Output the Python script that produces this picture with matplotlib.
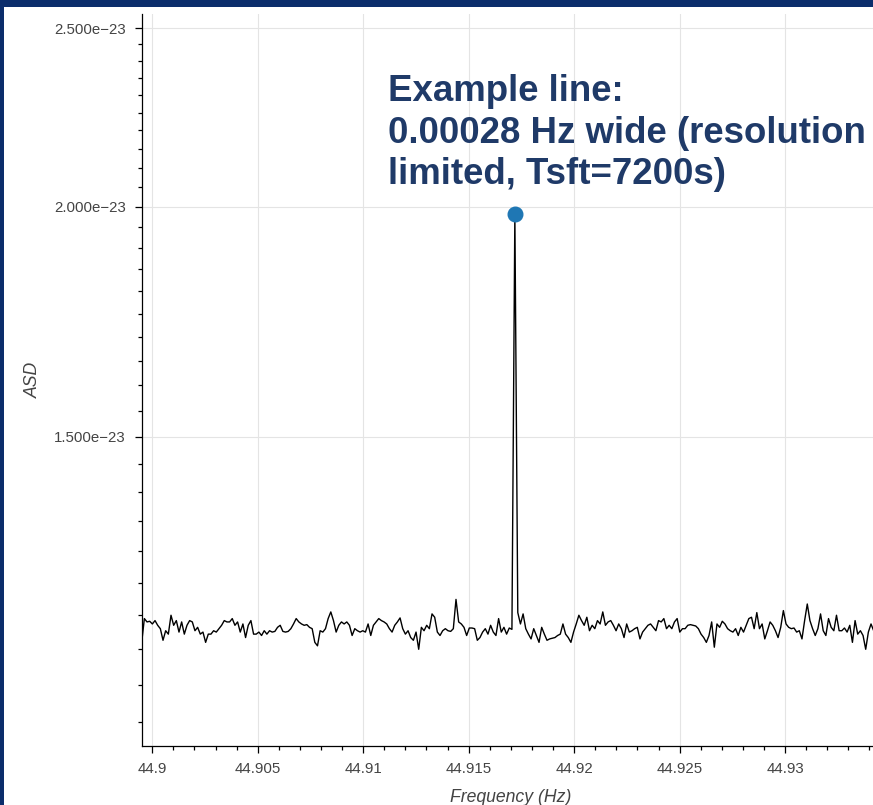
import numpy as np
import matplotlib
matplotlib.use("Agg")
import matplotlib.pyplot as plt
from matplotlib.patches import Rectangle
from matplotlib.ticker import FixedLocator, MultipleLocator, FuncFormatter, NullFormatter

# ASD values in units of 1e-23
NOISE_LEFT = [
    1.160, 1.195, 1.190, 1.191, 1.187, 1.192, 1.185, 1.180, 1.163, 1.177,
    1.172, 1.200, 1.185, 1.192, 1.175, 1.190, 1.172, 1.185, 1.192, 1.190,
    1.177, 1.182, 1.172, 1.175, 1.160, 1.172, 1.172, 1.177, 1.175, 1.180,
    1.185, 1.192, 1.190, 1.190, 1.195, 1.185, 1.190, 1.175, 1.187, 1.167,
    1.185, 1.192, 1.172, 1.172, 1.175, 1.170, 1.177, 1.172, 1.177, 1.175,
    1.176, 1.182, 1.185, 1.176, 1.175, 1.176, 1.180, 1.187, 1.195, 1.190,
    1.187, 1.185, 1.186, 1.182, 1.180, 1.160, 1.155, 1.177,
    1.175, 1.180, 1.195, 1.205, 1.192, 1.175, 1.185, 1.190, 1.187, 1.190,
    1.185, 1.170, 1.180, 1.177, 1.175, 1.177, 1.175, 1.187, 1.170, 1.185,
    1.190, 1.195, 1.192, 1.190, 1.187, 1.180, 1.175, 1.185, 1.190, 1.196,
    1.180, 1.172, 1.177, 1.167, 1.163, 1.175, 1.150, 1.182, 1.177, 1.185,
    1.180, 1.202, 1.197, 1.175, 1.170, 1.177, 1.180, 1.177, 1.176, 1.180,
    1.224, 1.190, 1.187, 1.182, 1.170, 1.181, 1.181, 1.180, 1.163, 1.167,
    1.175, 1.180, 1.172, 1.185, 1.175, 1.170, 1.195, 1.175, 1.182, 1.172,
    1.181, 1.179,
]
NOISE_RIGHT = [
    1.204, 1.187, 1.202, 1.180, 1.172, 1.165, 1.180, 1.170, 1.160, 1.182,
    1.172, 1.163, 1.165, 1.166, 1.167, 1.170, 1.172, 1.187, 1.172, 1.167,
    1.160, 1.175, 1.187, 1.200, 1.192, 1.185, 1.197, 1.177, 1.185, 1.180,
    1.192, 1.187, 1.205, 1.185, 1.190, 1.192, 1.185, 1.177, 1.187, 1.180,
    1.167, 1.187, 1.175, 1.177, 1.180, 1.182, 1.165, 1.175, 1.180, 1.185,
    1.187, 1.182, 1.177, 1.192, 1.190, 1.195, 1.180, 1.185, 1.180, 1.190,
    1.195, 1.175, 1.180, 1.180, 1.185, 1.186,
    1.185, 1.184, 1.180, 1.172, 1.167, 1.160, 1.170, 1.190, 1.153, 1.187,
    1.182, 1.191, 1.187, 1.180, 1.177, 1.175, 1.180, 1.170, 1.182, 1.175,
    1.185, 1.195, 1.197, 1.180, 1.204, 1.180, 1.187, 1.165, 1.177, 1.190,
    1.185, 1.177, 1.167, 1.182, 1.207, 1.187, 1.182, 1.180, 1.181, 1.175,
    1.177, 1.165, 1.192, 1.217, 1.192, 1.180, 1.170, 1.180, 1.202, 1.177,
    1.170, 1.195, 1.182, 1.177, 1.200, 1.177, 1.177, 1.181, 1.175, 1.185,
    1.160, 1.192, 1.172, 1.177, 1.170, 1.150, 1.175, 1.187, 1.177,
]
PEAK_FREQ = 44.91719
PEAK_ASD = 1.982
TSFT = 7200.0
F_START = 44.8995
F_END = 44.9342

XLIM = (44.8995, 44.9345)
YLIM = (1.019e-23, 2.545e-23)
Y_MAJOR = [1.5e-23, 2.0e-23, 2.5e-23]
X_MAJOR = [44.9, 44.905, 44.91, 44.915, 44.92, 44.925, 44.93]

NOTE = "Example line:\n0.00028 Hz wide (resolution\nlimited, Tsft=7200s)"

BG_BLUE = "#0b2d6b"
TEXT_NAVY = "#1f3a68"


def sci_label(v, _pos):
    return f"{v:.3e}".replace("-", "\u2212")


def freq_label(v, _pos):
    return f"{v:.3f}".rstrip("0").rstrip(".")


def main() -> None:
    df = 1.0 / TSFT
    f_left = np.linspace(F_START, PEAK_FREQ - df, len(NOISE_LEFT))
    f_right = np.linspace(PEAK_FREQ + df, F_END, len(NOISE_RIGHT))
    freq = np.concatenate([f_left, [PEAK_FREQ], f_right])
    asd = np.concatenate([NOISE_LEFT, [PEAK_ASD], NOISE_RIGHT]) * 1e-23

    W, H = 873, 805
    fig = plt.figure(figsize=(W / 100, H / 100), dpi=100)
    fig.patch.set_facecolor(BG_BLUE)
    fig.patches.append(Rectangle((4 / W, 0), 1, 1 - 7 / H, transform=fig.transFigure,
                                 facecolor="white", edgecolor="none", zorder=-10))

    left, right, top, bottom = 141.7, 880, 14, 746
    ax = fig.add_axes([left / W, 1 - bottom / H, (right - left) / W, (bottom - top) / H])
    ax.set_zorder(1)
    ax.set_facecolor("white")

    ax.plot(freq, asd, color="black", lw=1.0, zorder=3)
    ax.plot([PEAK_FREQ], [PEAK_ASD * 1e-23], "o", color="#1f77b4", ms=10.5,
            mec="#1f77b4", zorder=4)

    ax.set_yscale("log")
    ax.set_xlim(*XLIM)
    ax.set_ylim(*YLIM)

    ax.yaxis.set_major_locator(FixedLocator(Y_MAJOR))
    ax.yaxis.set_minor_locator(FixedLocator(np.arange(1.05, 2.551, 0.05) * 1e-23))
    ax.yaxis.set_major_formatter(FuncFormatter(sci_label))
    ax.yaxis.set_minor_formatter(NullFormatter())
    ax.xaxis.set_major_locator(FixedLocator(X_MAJOR))
    ax.xaxis.set_minor_locator(MultipleLocator(0.001))
    ax.xaxis.set_major_formatter(FuncFormatter(freq_label))

    ax.grid(True, which="major", color="#e4e4e4", lw=0.8, zorder=0)
    for side in ("top", "right"):
        ax.spines[side].set_visible(False)
    for side in ("left", "bottom"):
        ax.spines[side].set_color("black")
        ax.spines[side].set_linewidth(0.9)

    ax.tick_params(which="major", direction="out", length=5, width=0.9,
                   color="black", labelsize=10.8, labelcolor="#444444", pad=6.5)
    ax.tick_params(which="minor", direction="out", length=3, width=0.9, color="black")
    for lab in ax.get_xticklabels() + ax.get_yticklabels():
        lab.set_family("Liberation Sans")

    ax.set_xlabel("Frequency (Hz)", fontsize=12.7, style="italic", color="#444444",
                  family="Liberation Sans")
    ax.set_ylabel("ASD", fontsize=12.7, style="italic", color="#444444",
                  family="Liberation Sans")
    ax.xaxis.set_label_coords(0.5, (bottom - 797) / (bottom - top))
    ax.xaxis.label.set_va("center")
    ax.yaxis.set_label_coords((33 - left) / (right - left), 0.5)
    ax.yaxis.label.set_va("center")

    fig.text(388 / W, 1 - 74 / H, NOTE, ha="left", va="top", fontsize=26.4,
             fontweight="bold", color=TEXT_NAVY, family="Liberation Sans",
             linespacing=1.25, zorder=5)

    fig.savefig("out.png", dpi=100, facecolor=fig.get_facecolor())


if __name__ == "__main__":
    main()
